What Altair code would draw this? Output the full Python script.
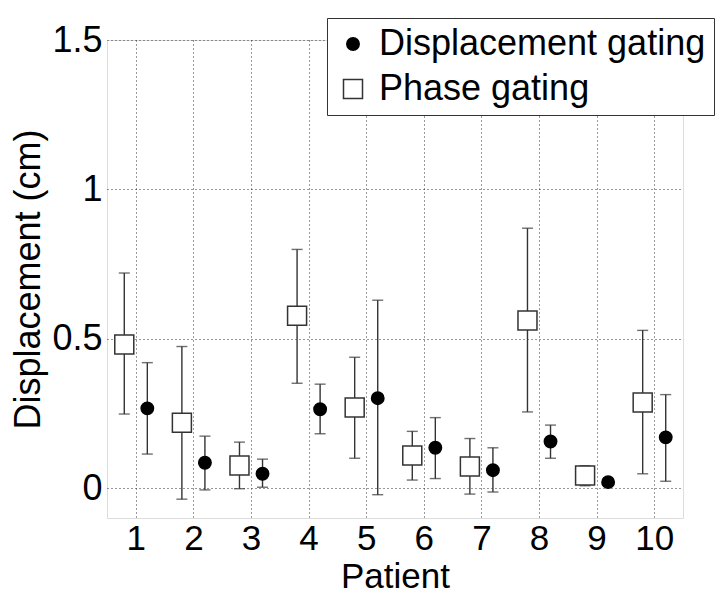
import altair as alt
import pandas as pd

patients = [1, 2, 3, 4, 5, 6, 7, 8, 9, 10]
series_names = ["Displacement gating", "Phase gating"]

phase_val = [0.481, 0.219, 0.076, 0.577, 0.270, 0.109, 0.072, 0.561, 0.042, 0.287]
phase_lo = [0.248, -0.037, -0.002, 0.351, 0.100, 0.027, -0.020, 0.255, 0.008, 0.048]
phase_hi = [0.720, 0.474, 0.154, 0.799, 0.438, 0.190, 0.166, 0.870, 0.075, 0.528]

disp_val = [0.267, 0.085, 0.048, 0.264, 0.301, 0.135, 0.060, 0.156, 0.020, 0.170]
disp_lo = [0.114, -0.006, 0.003, 0.182, -0.022, 0.032, -0.013, 0.100, 0.015, 0.023]
disp_hi = [0.420, 0.174, 0.097, 0.348, 0.629, 0.236, 0.135, 0.211, 0.025, 0.313]

y_ticks = [0, 0.5, 1, 1.5]

rows = []
for i, p in enumerate(patients):
    rows.append({"patient": p, "series": "Phase gating",
                 "value": phase_val[i], "lo": phase_lo[i], "hi": phase_hi[i]})
    rows.append({"patient": p, "series": "Displacement gating",
                 "value": disp_val[i], "lo": disp_lo[i], "hi": disp_hi[i]})
df = pd.DataFrame(rows)

FONT = "Liberation Sans"

x_enc = alt.X(
    "xpos:Q",
    scale=alt.Scale(domain=[0.5, 10.5], nice=False, zero=False),
    axis=alt.Axis(
        values=patients, format="d", labelOverlap=False, labelFlush=False,
        title="Patient", grid=True, ticks=False, domain=False,
        gridDash=[1, 3], gridColor="#333333", gridWidth=1,
        labelFontSize=35, labelFont=FONT, labelColor="black", labelPadding=3,
        titleFontSize=35, titleFont=FONT, titleFontWeight="normal", titleColor="black",
        titleY=69, titleBaseline="alphabetic",
    ),
)
y_scale = alt.Scale(domain=[-0.1, 1.5], nice=False, zero=False)
y_axis = alt.Axis(
    values=y_ticks, format="~g", labelOverlap=False, labelFlush=False,
    title="Displacement (cm)", grid=True, ticks=False, domain=False,
    gridDash=[1, 3], gridColor="#333333", gridWidth=1,
    labelFontSize=36, labelFont=FONT, labelColor="black", labelPadding=5,
    labelBaseline="middle",
    titleFontSize=36, titleFont=FONT, titleFontWeight="normal", titleColor="black",
    titleX=-68, titleBaseline="alphabetic",
)

base = alt.Chart(df).transform_calculate(
    xpos="datum.patient + (datum.series == 'Phase gating' ? -0.2 : 0.2)"
)

rules = base.mark_rule(color="#333333", strokeWidth=1.4).encode(
    x=x_enc,
    y=alt.Y("lo:Q", scale=y_scale, axis=y_axis),
    y2="hi:Q",
)
caps_lo = base.mark_tick(orient="horizontal", size=11, thickness=1.4, color="#333333").encode(
    x="xpos:Q", y="lo:Q"
)
caps_hi = base.mark_tick(orient="horizontal", size=11, thickness=1.4, color="#333333").encode(
    x="xpos:Q", y="hi:Q"
)

legend = alt.Legend(
    title=None, orient="none", legendX=220, legendY=-22,
    labelFontSize=36, labelFont=FONT, labelColor="black", labelOffset=8,
    labelLimit=600,
    symbolOffset=0, rowPadding=9, padding=8,
    strokeColor="#333333", fillColor="white", symbolStrokeWidth=1.5,
)

points = base.mark_point(opacity=1, strokeWidth=1.5).encode(
    x="xpos:Q",
    y="value:Q",
    shape=alt.Shape("series:N", scale=alt.Scale(domain=series_names, range=["circle", "square"]), legend=legend),
    fill=alt.Fill("series:N", scale=alt.Scale(domain=series_names, range=["black", "white"]), legend=legend),
    stroke=alt.Stroke("series:N", scale=alt.Scale(domain=series_names, range=["black", "#333333"]), legend=legend),
    size=alt.Size("series:N", scale=alt.Scale(domain=series_names, range=[154, 361]), legend=legend),
)

chart = alt.layer(rules, caps_lo, caps_hi, points).properties(
    width=576, height=478,
    padding={"left": 99, "top": 32, "right": 35, "bottom": 76},
    autosize=alt.AutoSizeParams(type="none"),
).configure_view(
    stroke="#222222", strokeWidth=1
).configure(background="white")

chart.save("out.html", embed_options={"renderer": "svg", "actions": False})
